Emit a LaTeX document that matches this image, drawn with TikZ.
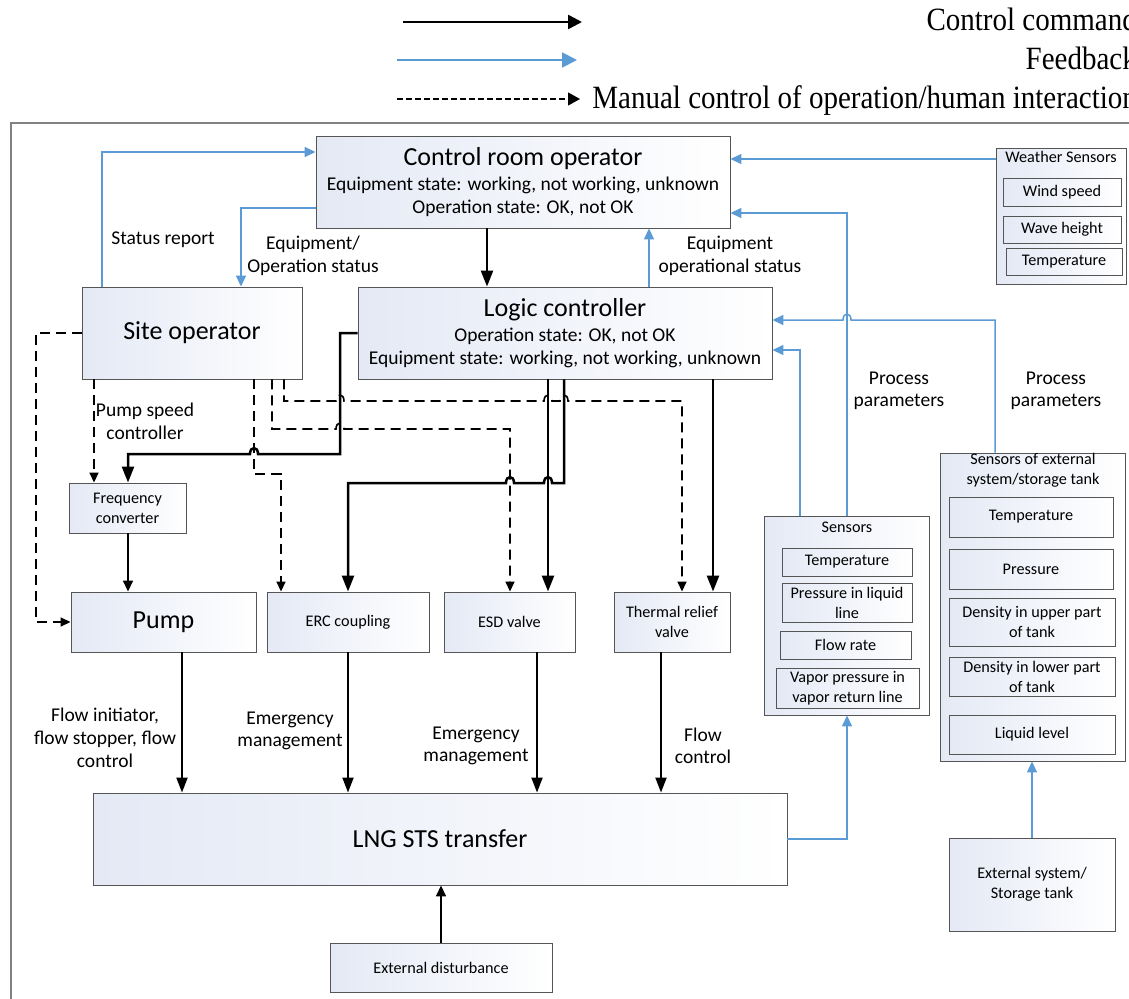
\documentclass[tikz,border=0pt]{standalone}
\usepackage{fontspec}
\setmainfont{Carlito}
\newfontfamily\legendfont{Liberation Serif}
\usetikzlibrary{arrows.meta}
\definecolor{fbblue}{RGB}{91,155,213}
\definecolor{boxline}{RGB}{85,85,85}
\definecolor{boxtint}{RGB}{228,233,245}
\definecolor{framegray}{RGB}{130,130,130}
\newcommand\bigfnt{\fontsize{26}{30}\selectfont}
\newcommand\lblfnt{\fontsize{19.5}{23}\selectfont}
\newcommand\smfnt{\fontsize{16.2}{20}\selectfont}
\newcommand\legfnt{\legendfont\fontsize{29}{32}\selectfont}
\begin{document}
\begin{tikzpicture}[x=1pt,y=-1pt,
  box/.style={draw=boxline, line width=0.9pt, left color=boxtint, middle color=white, right color=white, inner sep=0pt, align=center},
  inbox/.style={box, line width=0.8pt, font=\smfnt},
  lbl/.style={font=\lblfnt, align=center, inner sep=0pt},
  cc/.style={draw=black, line width=2.5pt, -{Triangle[length=16pt,width=12pt]}},
  cc2/.style={draw=black, line width=2pt, -{Triangle[length=15pt,width=11pt]}},
  thin/.style={draw=black, line width=1.6pt, -{Triangle[length=11pt,width=10pt]}},
  fb/.style={draw=fbblue, line width=1.5pt, -{Triangle[length=11pt,width=10pt]}},
  man/.style={draw=black, line width=1.6pt, dash pattern=on 10pt off 6pt, -{Triangle[length=10pt,width=9pt]}}
]
\useasboundingbox (0,0) rectangle (1129,998);
\clip (0,0) rectangle (1129,998);

% ---------- legend ----------
\coordinate (lga1) at (403,22); \coordinate (lgb1) at (582,22);
\coordinate (lga2) at (397,60); \coordinate (lgb2) at (577,60);
\coordinate (lga3) at (397,99); \coordinate (lgb3) at (580,99);
\draw[line width=2.5pt, -{Triangle[length=14pt,width=14pt]}] (lga1) -- (lgb1);
\draw[draw=fbblue, line width=2pt, -{Triangle[length=15pt,width=15pt]}] (lga2) -- (lgb2);
\draw[line width=1.2pt, dash pattern=on 6pt off 3pt, -{Triangle[length=12pt,width=13pt]}] (lga3) -- (lgb3);
\node[anchor=base east, font=\legfnt, inner sep=0pt] (lt1) at (1137,31) {\scalebox{1}[1.12]{Control command}};
\node[anchor=base east, font=\legfnt, inner sep=0pt] (lt2) at (1137,69.5) {\scalebox{1}[1.12]{Feedback}};
\node[anchor=base east, font=\legfnt, inner sep=0pt] (lt3) at (1137,108.5) {\scalebox{1}[1.12]{Manual control of operation/human interaction}};

% ---------- frame ----------
\draw[framegray, line width=1.2pt] (1140,123) -- (11,123) -- (11,1010);

% ---------- boxes ----------
\node[box, minimum width=414pt, minimum height=92pt, font=\lblfnt] (cro) at (523,182)
  {{\bigfnt Control room operator}\\[2.5pt] Equipment state: working, not working, unknown\\ Operation state: OK, not OK};
\node[box, minimum width=220pt, minimum height=92pt, font=\bigfnt] (site) at (192,333) {Site operator};
\node[box, minimum width=414pt, minimum height=92pt, font=\lblfnt] (lc) at (565,333)
  {{\bigfnt Logic controller}\\[2.5pt] Operation state: OK, not OK\\ Equipment state: working, not working, unknown};

\node[box, minimum width=130pt, minimum height=136pt] (weather) at (1061,216) {};
\node[font=\smfnt, inner sep=0pt] (wtitle) at (1061,157) {Weather Sensors};
\node[inbox, minimum width=118pt, minimum height=28pt] (wind) at (1062,192) {Wind speed};
\node[inbox, minimum width=118pt, minimum height=27pt] (wave) at (1062,229.5) {Wave height};
\node[inbox, minimum width=116pt, minimum height=27pt] (wtemp) at (1064,261.5) {Temperature};

\node[box, minimum width=117pt, minimum height=50pt, font=\smfnt] (fc) at (127.5,508) {Frequency\\converter};
\node[box, minimum width=185pt, minimum height=60pt, font=\bigfnt] (pump) at (163.5,622) {Pump};
\node[box, minimum width=162pt, minimum height=60pt, font=\smfnt] (erc) at (348,622) {ERC coupling};
\node[box, minimum width=131pt, minimum height=60pt, font=\smfnt] (esd) at (509.5,622) {ESD valve};
\node[box, minimum width=116pt, minimum height=60pt, font=\smfnt] (trv) at (672,622) {Thermal relief\\valve};
\node[box, minimum width=694pt, minimum height=92pt, font=\bigfnt] (lng) at (440,839) {LNG STS transfer};
\node[box, minimum width=222pt, minimum height=49pt, font=\smfnt] (ext) at (441,967.5) {External disturbance};

\node[box, minimum width=165pt, minimum height=199pt] (sens) at (846.5,615.5) {};
\node[font=\smfnt, inner sep=0pt] (stitle) at (847,527) {Sensors};
\node[inbox, minimum width=130pt, minimum height=28pt] (s1) at (847,562) {Temperature};
\node[inbox, minimum width=130pt, minimum height=39pt] (s2) at (847,602.5) {Pressure in liquid\\line};
\node[inbox, minimum width=131pt, minimum height=28pt] (s3) at (845.5,645) {Flow rate};
\node[inbox, minimum width=143pt, minimum height=40pt] (s4) at (847.5,688) {Vapor pressure in\\vapor return line};

\node[box, minimum width=185pt, minimum height=308pt] (xs) at (1032.5,607) {};
\node[font=\smfnt, align=center, inner sep=0pt] (xtitle) at (1033,470.5) {Sensors of external\\system/storage tank};
\node[inbox, minimum width=164pt, minimum height=40pt] (x1) at (1031,517) {Temperature};
\node[inbox, minimum width=164pt, minimum height=40pt] (x2) at (1031,569) {Pressure};
\node[inbox, minimum width=166pt, minimum height=48pt] (x3) at (1032,622) {Density in upper part\\of tank};
\node[inbox, minimum width=166pt, minimum height=39pt] (x4) at (1032,676.5) {Density in lower part\\of tank};
\node[inbox, minimum width=166pt, minimum height=39pt] (x5) at (1032,734.5) {Liquid level};
\node[box, minimum width=166pt, minimum height=93pt, font=\smfnt] (tank) at (1032,884.5) {External system/\\Storage tank};

% ---------- labels ----------
\node[lbl] (l1) at (163,240) {Status report};
\node[lbl] (l2) at (313,255.5) {Equipment/\\Operation status};
\node[lbl] (l3) at (730,255.5) {Equipment\\operational status};
\node[lbl, font=\fontsize{19.5}{22}\selectfont] (l4) at (899,391) {Process\\parameters};
\node[lbl, font=\fontsize{19.5}{22}\selectfont] (l5) at (1056,391) {Process\\parameters};
\node[lbl] (l6) at (145,421.5) {Pump speed\\controller};
\node[lbl, font=\fontsize{19.5}{23}\selectfont] (l7) at (105,738) {Flow initiator,\\flow stopper, flow\\control};
\node[lbl, font=\fontsize{19.5}{22}\selectfont] (l8) at (290,731) {Emergency\\management};
\node[lbl, font=\fontsize{19.5}{22}\selectfont] (l9) at (476,745.5) {Emergency\\management};
\node[lbl, font=\fontsize{19.5}{22}\selectfont] (l10) at (703,745.5) {Flow\\control};

% ---------- feedback (blue) ----------
\draw[fb] (site.north -| 102,0) |- (cro.west |- 0,152);
\draw[fb] (cro.west |- 0,208) -| (site.north -| 241,0);
\draw[fb] (weather.west |- 0,159) -- (cro.east |- 0,159);
\draw[fb] (lc.north -| 649,0) -- (cro.south -| 649,0);
\draw[fb] (sens.north -| 847,0) |- (cro.east |- 0,213);
\draw[fb] (sens.north -| 800,0) |- (lc.east |- 0,350);
\draw[fb] (xs.north -| 995,0) -- (995,320) -- (851,320) .. controls (851,312) and (843,312) .. (843,320) -- (lc.east |- 0,320);
\draw[fb] (lng.east) -| (sens.south -| 847,0);
\draw[fb] (tank.north) -- (tank.north |- xs.south);

% ---------- control commands (black) ----------
\draw[cc] (cro.south -| 487,0) -- (lc.north -| 487,0);
\draw[cc] (lc.west) -- (340,333) -- (340,454) -- (258,454) .. controls (258,446) and (250,446) .. (250,454) -- (128,454) -- (fc.north -| 128,0);
\draw[cc] (lc.south -| 548,0) -- (esd.north -| 548,0);
\draw[cc] (lc.south -| 564,0) -- (564,483) -- (552,483) .. controls (552,475) and (544,475) .. (544,483) -- (514,483) .. controls (514,475) and (506,475) .. (506,483) -- (348,483) -- (erc.north -| 348,0);
\draw[cc] (lc.south -| 713,0) -- (trv.north -| 713,0);
\draw[thin] (fc.south -| 128,0) -- (pump.north -| 128,0);
\draw[cc2] (pump.south -| 182,0) -- (lng.north -| 182,0);
\draw[cc2] (erc.south -| 348,0) -- (lng.north -| 348,0);
\draw[cc2] (esd.south -| 537,0) -- (lng.north -| 537,0);
\draw[cc2] (trv.south -| 661,0) -- (lng.north -| 661,0);
\draw[thin] (ext.north) -- (lng.south -| ext.north);

% ---------- manual control (dashed) ----------
\draw[man] (site.west) -| (pump.west -| 36,0) -- (pump.west);
\draw[man] (site.south -| 94,0) -- (fc.north -| 94,0);
\draw[man] (site.south -| 254,0) -- (254,474) -- (281,474) -- (erc.north -| 281,0);
\draw[man] (site.south -| 272,0) -- (272,429) -- (336,429) .. controls (336,421) and (344,421) .. (344,429) -- (510,429) -- (esd.north -| 510,0);
\draw[man] (site.south -| 284,0) -- (284,401) -- (336,401) .. controls (336,393) and (344,393) .. (344,401) -- (544,401) .. controls (544,393) and (552,393) .. (552,401) -- (560,401) .. controls (560,393) and (568,393) .. (568,401) -- (682,401) -- (trv.north -| 682,0);
\end{tikzpicture}
\end{document}
